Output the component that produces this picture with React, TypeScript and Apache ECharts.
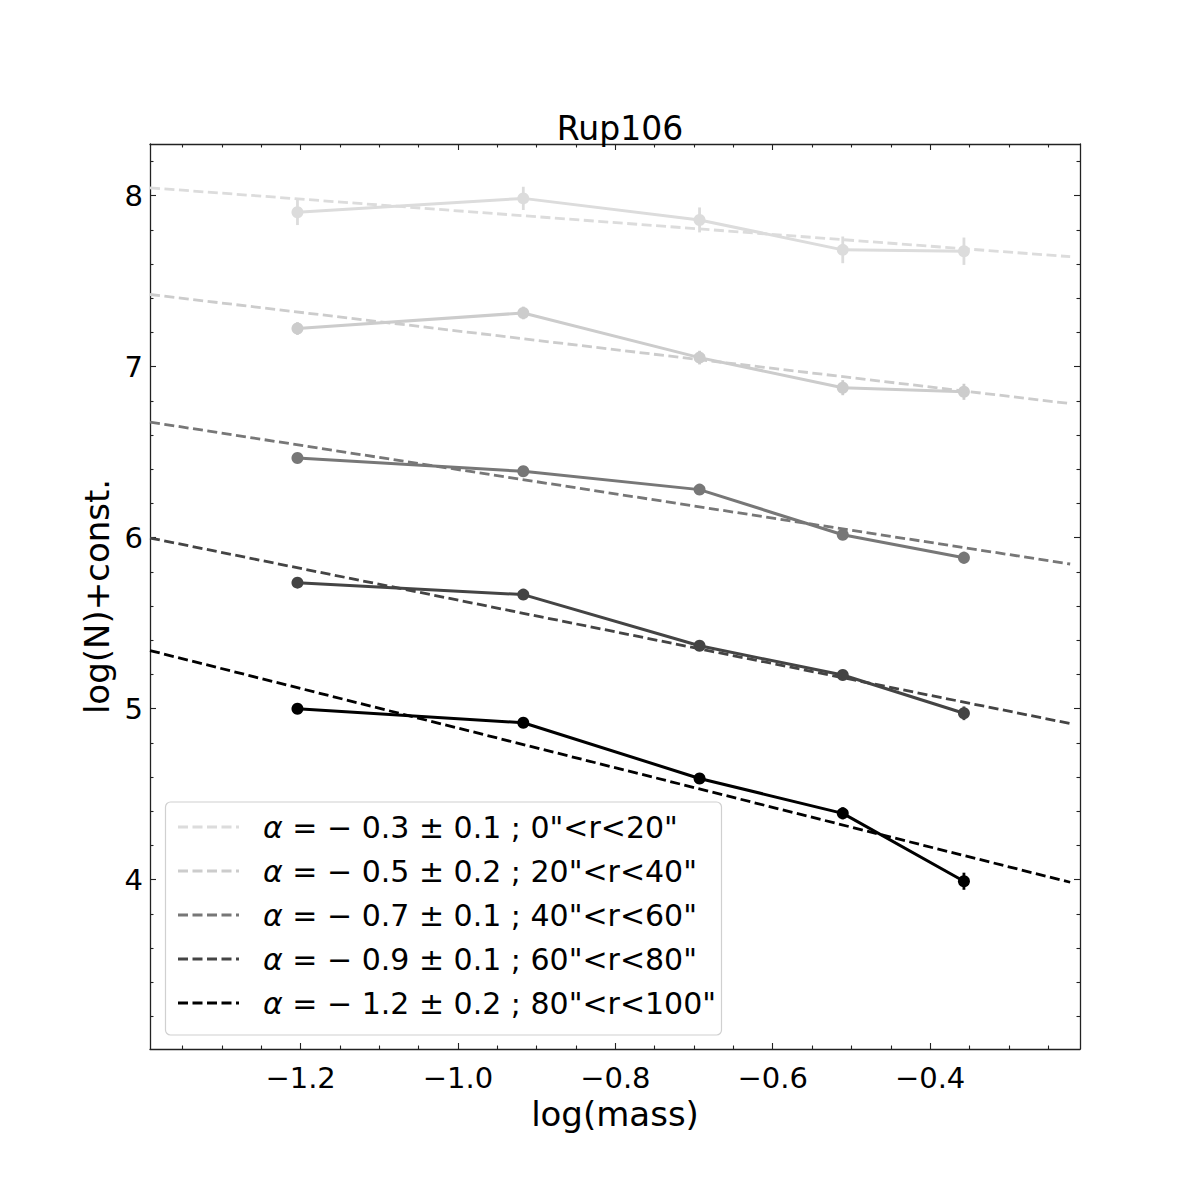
import React, { useEffect, useRef } from "react";
import * as echarts from "echarts";

const FONT = "DejaVu Sans";

// data points (log mass)
const X = [-1.204, -0.917, -0.693, -0.511, -0.357];
const Y1 = [7.903, 7.984, 7.858, 7.683, 7.675];
const E1 = [0.075, 0.068, 0.073, 0.078, 0.08];
const Y2 = [7.223, 7.314, 7.053, 6.877, 6.853];
const E2 = [0.037, 0.037, 0.04, 0.044, 0.047];
const Y3 = [6.466, 6.388, 6.281, 6.017, 5.883];
const E3 = [0.02, 0.02, 0.02, 0.03, 0.035];
const Y4 = [5.737, 5.667, 5.368, 5.197, 4.973];
const E4 = [0.02, 0.02, 0.03, 0.03, 0.04];
const Y5 = [5.0, 4.918, 4.592, 4.388, 3.991];
const E5 = [0.015, 0.02, 0.03, 0.035, 0.05];

// fitted power-law lines (endpoints)
const FIT_X = [-1.3914, -0.222];
const FIT1 = [8.046, 7.643];
const FIT2 = [7.422, 6.784];
const FIT3 = [6.676, 5.846];
const FIT4 = [5.998, 4.913];
const FIT5 = [5.34, 3.985];

const COLORS = ["#dcdcdc", "#cccccc", "#777777", "#444444", "#000000"];
const LABELS = [
  '{a|α} = − 0.3 ± 0.1 ; 0"<r<20"',
  '{a|α} = − 0.5 ± 0.2 ; 20"<r<40"',
  '{a|α} = − 0.7 ± 0.1 ; 40"<r<60"',
  '{a|α} = − 0.9 ± 0.1 ; 60"<r<80"',
  '{a|α} = − 1.2 ± 0.2 ; 80"<r<100"',
];

const X_MIN = -1.3914;
const X_MAX = -0.2095;
const Y_MIN = 3.01;
const Y_MAX = 8.302;
const X_MAJOR = [-1.2, -1.0, -0.8, -0.6, -0.4];
const X_MINOR = [-1.35, -1.3, -1.25, -1.15, -1.1, -1.05, -0.95, -0.9, -0.85, -0.75, -0.7, -0.65, -0.55, -0.5, -0.45, -0.35, -0.3, -0.25];
const Y_MAJOR = [4, 5, 6, 7, 8];
const Y_MINOR = [3.2, 3.4, 3.6, 3.8, 4.2, 4.4, 4.6, 4.8, 5.2, 5.4, 5.6, 5.8, 6.2, 6.4, 6.6, 6.8, 7.2, 7.4, 7.6, 7.8, 8.2];

const YS = [Y1, Y2, Y3, Y4, Y5];
const ES = [E1, E2, E3, E4, E5];
const FITS = [FIT1, FIT2, FIT3, FIT4, FIT5];

const fmtX = (v: number) => v.toFixed(1).replace("-", "\u2212");
const fmtY = (v: number) => String(Math.round(v)).replace("-", "\u2212");

export default function App() {
  const ref = useRef<HTMLDivElement>(null);
  useEffect(() => {
    if (!ref.current) return;
    const chart = echarts.init(ref.current, null, { renderer: "svg" });
    const axisLine = { show: true, lineStyle: { color: "#222", width: 1.3 } };
    const mkX = (pos: string, major: boolean, label: boolean) => ({
      type: "value",
      position: pos,
      min: X_MIN,
      max: X_MAX,
      axisLine: major ? axisLine : { show: false },
      splitLine: { show: false },
      axisTick: {
        show: true,
        inside: true,
        length: major ? 6 : 3.5,
        customValues: major ? X_MAJOR : X_MINOR,
        lineStyle: { color: "#222", width: 1.1 },
      },
      axisLabel: label
        ? { show: true, customValues: X_MAJOR, formatter: fmtX, fontFamily: FONT, fontSize: 29, color: "#000", margin: 14 }
        : { show: false },
      ...(label
        ? { name: "log(mass)", nameLocation: "middle", nameGap: 37, nameTextStyle: { fontFamily: FONT, fontSize: 34, color: "#000" } }
        : {}),
    });
    const mkY = (pos: string, major: boolean, label: boolean) => ({
      type: "value",
      position: pos,
      min: Y_MIN,
      max: Y_MAX,
      axisLine: major ? axisLine : { show: false },
      splitLine: { show: false },
      axisTick: {
        show: true,
        inside: true,
        length: major ? 6 : 3.5,
        customValues: major ? Y_MAJOR : Y_MINOR,
        lineStyle: { color: "#222", width: 1.1 },
      },
      axisLabel: label
        ? { show: true, customValues: Y_MAJOR, formatter: fmtY, fontFamily: FONT, fontSize: 29, color: "#000", margin: 7 }
        : { show: false },
      ...(label
        ? { name: "log(N)+const.", nameLocation: "middle", nameRotate: 90, nameGap: 34, nameTextStyle: { fontFamily: FONT, fontSize: 34, color: "#000" } }
        : {}),
    });

    const series: any[] = [];
    YS.forEach((ys, k) => {
      series.push({
        type: "line",
        name: "data" + k,
        data: X.map((x, i) => [x, ys[i]]),
        symbol: "circle",
        symbolSize: 12,
        showSymbol: true,
        lineStyle: { color: COLORS[k], width: 3 },
        itemStyle: { color: COLORS[k] },
        z: 3,
      });
      series.push({
        type: "custom",
        name: "err" + k,
        data: X.map((x, i) => [x, ys[i] - ES[k][i], ys[i] + ES[k][i]]),
        encode: { x: 0, y: [1, 2] },
        renderItem: (params: any, api: any) => {
          const p1 = api.coord([api.value(0), api.value(1)]);
          const p2 = api.coord([api.value(0), api.value(2)]);
          return {
            type: "line",
            shape: { x1: p1[0], y1: p1[1], x2: p2[0], y2: p2[1] },
            style: { stroke: COLORS[k], lineWidth: 2.8 },
          };
        },
        z: 3,
      });
    });
    FITS.forEach((f, k) => {
      series.push({
        type: "line",
        name: "fit" + k,
        data: FIT_X.map((x, i) => [x, f[i]]),
        symbol: "none",
        lineStyle: { color: COLORS[k], width: 2.8, type: [10, 4.5] },
        z: 4,
      });
    });

    // legend drawn with graphic elements
    const LX = 165.5, LY = 802, LW = 556, LH = 233;
    const legendChildren: any[] = [
      {
        type: "rect",
        shape: { x: LX, y: LY, width: LW, height: LH, r: 5 },
        style: { fill: "rgba(255,255,255,0.8)", stroke: "#d0d0d0", lineWidth: 1.2 },
      },
    ];
    LABELS.forEach((lab, k) => {
      const cy = 827 + k * 44;
      legendChildren.push({
        type: "line",
        shape: { x1: 178, y1: cy, x2: 239, y2: cy },
        style: { stroke: COLORS[k], lineWidth: 2.8, lineDash: [10, 4.5] },
      });
      legendChildren.push({
        type: "text",
        x: 263,
        y: cy,
        style: {
          text: lab,
          fontFamily: FONT,
          fontSize: 30,
          fill: "#000",
          verticalAlign: "middle",
          rich: { a: { fontFamily: FONT, fontSize: 30, fontStyle: "italic" } },
        },
      });
    });

    chart.setOption({
      animation: false,
      backgroundColor: "#fff",
      title: {
        text: "Rup106",
        left: 615,
        textAlign: "center",
        top: 107,
        textStyle: { fontFamily: FONT, fontSize: 33, fontWeight: "normal", color: "#000" },
      },
      grid: { left: 150, right: 120, top: 144, bottom: 151 },
      xAxis: [mkX("bottom", true, true), mkX("bottom", false, false), mkX("top", true, false), mkX("top", false, false)],
      yAxis: [mkY("left", true, true), mkY("left", false, false), mkY("right", true, false), mkY("right", false, false)],
      series,
      graphic: [{ type: "group", children: legendChildren, z: 100 }],
    });
    return () => chart.dispose();
  }, []);
  return <div ref={ref} style={{ position: "fixed", left: 0, top: 0, width: 1200, height: 1200, background: "#fff" }} />;
}
